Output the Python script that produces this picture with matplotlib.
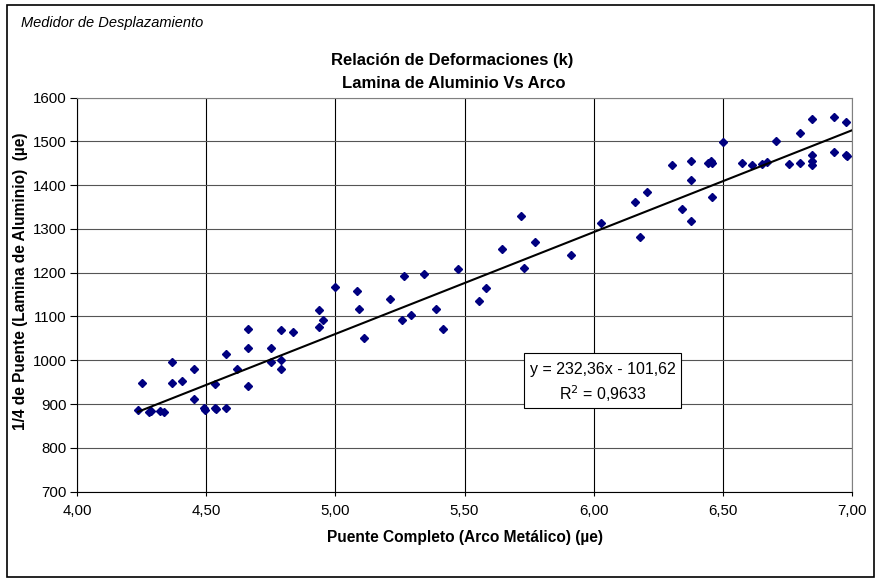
import matplotlib
matplotlib.use("Agg")
import matplotlib.pyplot as plt
import numpy as np
from matplotlib.patches import Rectangle

plt.rcParams["font.family"] = ["Liberation Sans", "DejaVu Sans"]

# Puente completo (arco metálico) vs 1/4 de puente (lámina de aluminio), µe
puente_completo = [
    4.236, 4.249, 4.278, 4.285, 4.320, 4.336, 4.366, 4.366, 4.406, 4.451,
    4.451, 4.491, 4.495, 4.535, 4.538, 4.535, 4.576, 4.576, 4.620, 4.661,
    4.661, 4.661, 4.750, 4.750, 4.791, 4.791, 4.791, 4.834, 4.935, 4.952,
    4.935, 5.000, 5.084, 5.090, 5.110, 5.212, 5.258, 5.267, 5.294, 5.343,
    5.389, 5.417, 5.473, 5.558, 5.583, 5.644, 5.718, 5.729, 5.775, 5.913,
    6.030, 6.162, 6.178, 6.206, 6.303, 6.342, 6.376, 6.376, 6.376, 6.442,
    6.455, 6.460, 6.459, 6.503, 6.576, 6.615, 6.654, 6.671, 6.705, 6.758,
    6.798, 6.798, 6.845, 6.845, 6.845, 6.845, 6.933, 6.933, 6.977, 6.977,
    6.980,
]
cuarto_puente = [
    886, 948, 882, 884, 884, 883, 996, 948, 953, 979,
    912, 890, 887, 890, 888, 945, 891, 1015, 979, 1072,
    1027, 941, 1027, 996, 1070, 1000, 979, 1065, 1114, 1092,
    1075, 1167, 1158, 1117, 1050, 1141, 1093, 1193, 1103, 1198,
    1117, 1071, 1208, 1136, 1166, 1254, 1329, 1211, 1271, 1240,
    1313, 1361, 1282, 1384, 1446, 1346, 1455, 1411, 1317, 1451,
    1455, 1451, 1373, 1498, 1451, 1446, 1448, 1453, 1501, 1448,
    1520, 1451, 1551, 1469, 1454, 1446, 1556, 1475, 1543, 1469,
    1466,
]

# linear trend shown on the chart
pendiente = 232.36
intercepto = -101.62
ecuacion = "y = 232,36x - 101,62"
r2_texto = "R$^2$ = 0,9633"

x_ticks = [4.0, 4.5, 5.0, 5.5, 6.0, 6.5, 7.0]
x_tick_labels = ["4,00", "4,50", "5,00", "5,50", "6,00", "6,50", "7,00"]
y_ticks = list(range(700, 1601, 100))

fig = plt.figure(figsize=(8.75, 5.79), dpi=100)
ax = fig.add_axes([77.3 / 875, 1 - 491.7 / 579, (851.7 - 77.3) / 875, (491.7 - 97.5) / 579])

ax.set_xlim(4.0, 7.0)
ax.set_ylim(700, 1600)
ax.set_xticks(x_ticks)
ax.set_xticklabels(x_tick_labels, fontsize=10.8)
ax.set_yticks(y_ticks)
ax.tick_params(axis="y", labelsize=10.8, length=5, width=0.8, pad=2.5)
ax.tick_params(axis="x", length=3, width=0.8, pad=5.5)

ax.grid(axis="x", color="black", lw=0.8)
ax.grid(axis="y", color="#555555", lw=0.8)
ax.set_axisbelow(True)
for side in ["top", "right"]:
    ax.spines[side].set_color("#808080")
for side in ["left", "bottom"]:
    ax.spines[side].set_color("black")
for s in ax.spines.values():
    s.set_linewidth(0.8)

ax.plot(puente_completo, cuarto_puente, linestyle="none", marker="D",
        markersize=3.6, color="#000080", zorder=3)

xs = np.array([min(puente_completo), max(puente_completo) + 0.02])
ax.plot(xs, pendiente * xs + intercepto, color="black", lw=1.5, zorder=4)

# trendline label box
ax.add_patch(Rectangle((5.732, 890.4), 6.338 - 5.732, 1016 - 890.4, facecolor="white",
                       edgecolor="black", lw=0.8, zorder=5))
ax.text(6.035, 978, ecuacion, ha="center", va="center", fontsize=11.5, zorder=6)
ax.text(6.035, 925, r2_texto, ha="center", va="center", fontsize=11.5, zorder=6)

ax.set_xlabel("Puente Completo (Arco Metálico) (µe)", fontsize=11.2, fontweight="bold", labelpad=9)
ax.set_ylabel("1/4 de Puente (Lamina de Aluminio)  (µe)", fontsize=11.2, fontweight="bold")
ax.yaxis.set_label_coords(-0.0633, 0.533)

fig.text(452 / 875, 1 - 60 / 579, "Relación de Deformaciones (k)",
         ha="center", va="center", fontsize=12, fontweight="bold")
fig.text(454 / 875, 1 - 83 / 579, "Lamina de Aluminio Vs Arco",
         ha="center", va="center", fontsize=12, fontweight="bold")
fig.text(20.7 / 875, 1 - 23.3 / 579, "Medidor de Desplazamiento", ha="left", va="center",
         fontsize=10.5, style="italic")

fig.patches.append(Rectangle((7.3 / 875, 2.5 / 579), 1 - 8.5 / 875, 1 - 7.5 / 579,
                             transform=fig.transFigure, fill=False, edgecolor="black", lw=1.2))

fig.savefig("out.png", dpi=100)
